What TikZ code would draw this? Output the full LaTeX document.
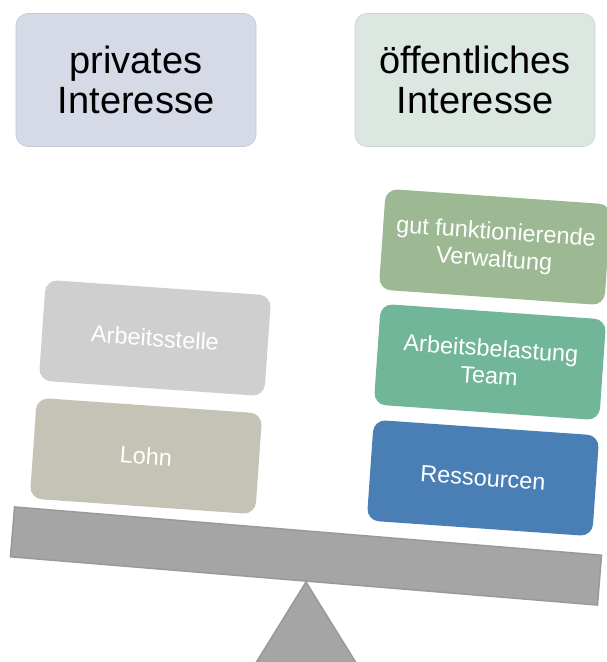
\documentclass[tikz,border=0pt]{standalone}
\usepackage{fontspec}
\setmainfont{Liberation Sans}
\definecolor{privbg}{HTML}{D5DAE6}
\definecolor{pubbg}{HTML}{DDE7E1}
\definecolor{jobc}{HTML}{CFCFCF}
\definecolor{lohnc}{HTML}{C4C3B5}
\definecolor{verwc}{HTML}{9CB994}
\definecolor{teamc}{HTML}{71B698}
\definecolor{ressc}{HTML}{4A7FB6}
\definecolor{beamc}{HTML}{A5A5A5}
\definecolor{beamline}{HTML}{999999}
\begin{document}
\begin{tikzpicture}[x=1pt,y=-1pt,
  headbox/.style={rounded corners=12pt, minimum width=240pt, minimum height=133pt,
    inner sep=0pt, align=center, font=\fontsize{38}{40}\selectfont, text=black},
  weightbox/.style={rounded corners=12pt, minimum width=226pt, minimum height=101pt,
    inner sep=0pt, align=center, font=\fontsize{23.5}{27.5}\selectfont, text=white, rotate=-4}]
\useasboundingbox (0,0) rectangle (607,662);
% header boxes
\node[headbox, fill=privbg, draw=privbg!92!black, line width=0.6pt] (priv) at (136,80) {privates\\Interesse};
\node[headbox, fill=pubbg, draw=pubbg!92!black, line width=0.6pt] (pub) at (475,80) {öffentliches\\Interesse};
% stand
\coordinate (apex) at (306,582);
\coordinate (bl) at (254,666);
\coordinate (br) at (358,666);
\draw[fill=beamc, draw=beamline, line width=1.5pt, line join=round] (apex) -- (br) -- (bl) -- cycle;
% beam
\node[fill=beamc, draw=beamline, line width=1.5pt, minimum width=589pt, minimum height=50pt,
  inner sep=0pt, rotate=-4.7] (beam) at (306,556) {};
% left weights
\node[weightbox, fill=lohnc] (lohn) at (146,456) {Lohn};
\node[weightbox, fill=jobc] (job) at (155,338) {Arbeitsstelle};
% right weights
\node[weightbox, fill=ressc] (ress) at (483,478) {Ressourcen};
\node[weightbox, fill=teamc] (team) at (490,362) {Arbeitsbelastung\\Team};
\node[weightbox, fill=verwc] (verw) at (495,247) {gut funktionierende\\Verwaltung};
\end{tikzpicture}
\end{document}
